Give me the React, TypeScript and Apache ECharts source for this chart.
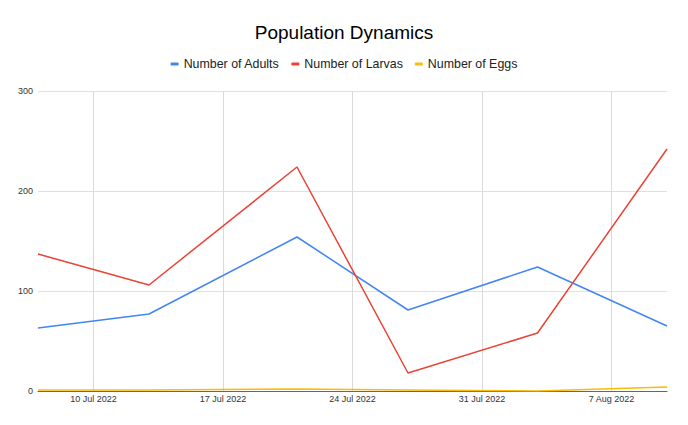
import React, { useEffect, useRef } from "react";
import * as echarts from "echarts";

const dates = ["2022-07-07", "2022-07-13", "2022-07-21", "2022-07-27", "2022-08-03", "2022-08-10"];
const adults = [63, 77, 154, 81, 124, 65];
const larvas = [137, 106, 224, 18, 58, 242];
const eggs = [1, 1, 2, 1, 0, 4];
const tickDates = ["2022-07-10", "2022-07-17", "2022-07-24", "2022-07-31", "2022-08-07"];
const yTicks = [0, 100, 200, 300];
const monthNames = ["Jan", "Feb", "Mar", "Apr", "May", "Jun", "Jul", "Aug", "Sep", "Oct", "Nov", "Dec"];

const toTs = (s: string) => {
  const [y, m, d] = s.split("-").map(Number);
  return Date.UTC(y, m - 1, d);
};
const fmt = (v: number) => {
  const d = new Date(v);
  return `${d.getUTCDate()} ${monthNames[d.getUTCMonth()]} ${d.getUTCFullYear()}`;
};

export default function App() {
  const ref = useRef<HTMLDivElement>(null);
  useEffect(() => {
    if (!ref.current) return;
    const chart = echarts.init(ref.current, undefined, { renderer: "svg" });
    const xs = dates.map(toTs);
    const ticks = tickDates.map(toTs);
    const font = "Arial, 'Liberation Sans', sans-serif";
    chart.setOption({
      animation: false,
      backgroundColor: "#fff",
      title: {
        text: "Population Dynamics",
        left: "center",
        top: 18,
        textStyle: { fontSize: 19, fontWeight: "normal", color: "#000", fontFamily: font },
      },
      legend: {
        top: 53,
        left: "center",
        icon: "roundRect",
        itemWidth: 8,
        itemHeight: 3,
        itemGap: 12,
        textStyle: { fontSize: 12.4, color: "#222", fontFamily: font },
        data: ["Number of Adults", "Number of Larvas", "Number of Eggs"],
      },
      grid: { left: 38, right: 21, top: 91, bottom: 34 },
      xAxis: {
        type: "value",
        min: xs[0],
        max: xs[xs.length - 1],
        axisLine: { show: true, lineStyle: { color: "#666", width: 1 } },
        axisTick: { show: false, customValues: ticks },
        axisLabel: {
          customValues: ticks,
          formatter: (v: number) => fmt(v),
          fontSize: 9,
          color: "#333",
          fontFamily: font,
          margin: 3,
        },
        splitLine: { show: true, lineStyle: { color: "#dadada", width: 1 } },
      },
      yAxis: {
        type: "value",
        min: yTicks[0],
        max: yTicks[yTicks.length - 1],
        interval: 100,
        axisLine: { show: false },
        axisTick: { show: false },
        axisLabel: { fontSize: 9, color: "#333", fontFamily: font, margin: 5 },
        splitLine: { lineStyle: { color: "#e0e0e0", width: 1 } },
      },
      series: [
        {
          name: "Number of Adults",
          type: "line",
          data: xs.map((x, i) => [x, adults[i]]),
          showSymbol: false,
          color: "#4285F4",
          lineStyle: { width: 1.5 },
        },
        {
          name: "Number of Larvas",
          type: "line",
          data: xs.map((x, i) => [x, larvas[i]]),
          showSymbol: false,
          color: "#EA4335",
          lineStyle: { width: 1.5 },
        },
        {
          name: "Number of Eggs",
          type: "line",
          data: xs.map((x, i) => [x, eggs[i]]),
          showSymbol: false,
          color: "#FBBC04",
          lineStyle: { width: 1.5 },
        },
      ],
    });
    return () => chart.dispose();
  }, []);
  return <div ref={ref} style={{ width: 688, height: 425, position: "absolute", left: 0, top: 0 }} />;
}
